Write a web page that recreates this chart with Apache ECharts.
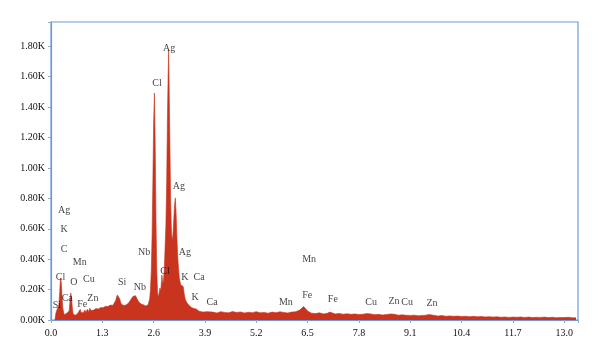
<!DOCTYPE html>
<html>
<head>
<meta charset="utf-8">
<script src="https://cdn.jsdelivr.net/npm/echarts@6/dist/echarts.min.js"></script>
<style>html,body{margin:0;padding:0;background:#fff}#c{width:600px;height:359px}</style>
</head>
<body>
<div id="c"></div>
<script>
// Spectrum: energy (keV) and counts
const energy = [
0.10,0.12,0.14,0.16,0.18,0.20,0.22,0.24,0.26,0.28,0.30,0.32,0.34,0.36,0.38,0.40,0.42,0.44,0.46,0.48,
0.50,0.52,0.54,0.56,0.58,0.60,0.62,0.64,0.66,0.68,0.70,0.72,0.74,0.76,0.78,0.80,0.82,0.84,0.86,0.88,
0.90,0.92,0.94,0.96,0.98,1.00,1.02,1.04,1.06,1.08,1.10,1.12,1.14,1.16,1.18,1.20,1.22,1.24,1.26,1.28,
1.30,1.32,1.34,1.36,1.38,1.40,1.42,1.44,1.46,1.48,1.50,1.52,1.54,1.56,1.58,1.60,1.62,1.64,1.66,1.68,
1.70,1.72,1.74,1.76,1.78,1.80,1.82,1.84,1.86,1.88,1.90,1.92,1.94,1.96,1.98,2.00,2.02,2.04,2.06,2.08,
2.10,2.12,2.14,2.16,2.18,2.20,2.22,2.24,2.26,2.28,2.30,2.32,2.34,2.36,2.38,2.40,2.42,2.44,2.46,2.48,
2.50,2.52,2.54,2.56,2.58,2.60,2.62,2.64,2.66,2.68,2.70,2.72,2.74,2.76,2.78,2.80,2.81,2.83,2.85,2.87,
2.89,2.91,2.93,2.95,2.97,2.98,2.99,3.01,3.03,3.05,3.07,3.09,3.11,3.13,3.15,3.17,3.19,3.21,3.23,3.25,
3.27,3.29,3.31,3.33,3.35,3.37,3.39,3.41,3.44,3.47,3.50,3.53,3.56,3.59,3.62,3.65,3.68,3.71,3.75,3.80,
3.85,3.90,3.95,4.00,4.1,4.2,4.3,4.4,4.5,4.6,4.7,4.8,4.9,5.0,5.1,5.2,5.3,5.4,5.5,5.6,
5.7,5.8,5.9,6.0,6.1,6.2,6.3,6.35,6.4,6.45,6.5,6.6,6.7,6.8,6.9,7.0,7.06,7.1,7.2,7.3,
7.4,7.5,7.6,7.7,7.8,7.9,8.0,8.05,8.1,8.2,8.3,8.4,8.5,8.6,8.64,8.7,8.8,8.9,9.0,9.1,
9.2,9.3,9.4,9.5,9.57,9.65,9.7,9.8,9.9,10.0,10.1,10.2,10.3,10.4,10.5,10.6,10.7,10.8,10.9,11.0,
11.1,11.2,11.3,11.4,11.5,11.6,11.7,11.8,11.9,12.0,12.1,12.2,12.3,12.4,12.5,12.6,12.7,12.8,12.9,13.0,
13.1,13.2,13.3
];
const counts = [
0,40,60,55,70,100,180,276,250,150,80,50,35,30,40,45,35,40,60,120,
178,150,80,40,30,28,32,30,35,45,40,55,70,50,45,60,48,55,65,50,
58,70,60,55,78,85,62,60,70,65,72,68,75,70,78,72,80,76,82,78,
85,80,88,84,90,86,92,88,95,92,98,94,100,96,105,110,120,130,150,165,
171,160,140,120,105,100,98,95,100,96,98,105,100,110,118,125,135,142,150,156,
164,155,160,150,140,132,120,115,110,105,102,98,100,95,98,92,96,94,100,110,
140,200,320,550,900,1300,1493,1150,650,320,180,150,160,210,190,260,296,240,260,330,
480,620,900,1350,1650,1776,1600,1200,800,600,520,560,660,760,803,700,540,420,340,280,
250,230,240,243,220,180,150,130,115,105,95,88,82,88,75,68,72,62,58,55,
52,50,55,48,52,46,55,50,47,56,49,53,46,51,48,55,47,50,45,52,
48,54,50,46,52,55,65,78,88,80,60,45,42,47,40,44,52,45,40,43,
38,41,37,40,36,38,42,46,40,35,37,33,36,40,45,38,32,34,31,30,
32,28,30,32,36,33,28,26,29,25,27,24,26,23,25,22,24,21,23,20,
22,19,21,18,20,17,19,18,20,17,19,16,18,17,19,16,18,15,17,16,
18,15,14
];
// Element annotations (energy, counts, text)
const labelEnergy = [2.99,2.685,3.24,2.36,3.39,2.89,3.39,3.75,3.65,4.08,2.25,1.80,
  0.33,0.33,0.33,0.73,0.24,0.58,0.96,0.15,0.41,0.79,1.06,
  6.54,5.95,6.49,7.14,8.11,8.69,9.02,9.65];
const labelCount = [1789,1559,881,447,447,322,283,283,151,118,217,250,
  723,599,467,381,283,250,270,95,145,105,140,
  401,118,164,138,118,125,118,112];
const labelText = ['Ag','Cl','Ag','Nb','Ag','Cl','K','Ca','K','Ca','Nb','Si',
  'Ag','K','C','Mn','Cl','O','Cu','Si','Ca','Fe','Zn',
  'Mn','Mn','Fe','Fe','Cu','Zn','Cu','Zn'];
// Axis ticks
const xTickStep = 1.3;
const yTickStep = 200;

const blue = '#6b9bd9';
const red = '#c9341f';
const serif = '"Liberation Serif","Times New Roman",serif';

const specData = energy.map((e, i) => [e, counts[i]]);
const labelData = labelText.map((t, i) => ({ value: [labelEnergy[i], labelCount[i]], name: t }));

const chart = echarts.init(document.getElementById('c'));
chart.setOption({
  animation: false,
  backgroundColor: '#fff',
  grid: { left: 51, right: 22, top: 22, bottom: 39, show: true, borderColor: blue, borderWidth: 1.2, backgroundColor: 'transparent' },
  xAxis: {
    type: 'value', min: 0, max: 13.35, interval: xTickStep,
    axisLine: { show: true, lineStyle: { color: blue, width: 1.2 } },
    axisTick: { show: true, length: 3, lineStyle: { color: '#9ab' } },
    splitLine: { show: false },
    axisLabel: {
      margin: 8, color: '#111', fontFamily: serif, fontSize: 10,
      formatter: v => (v > 13.2 ? '' : v.toFixed(1))
    }
  },
  yAxis: {
    type: 'value', min: 0, max: 1960, interval: yTickStep,
    axisLine: { show: true, lineStyle: { color: blue, width: 1.2 } },
    axisTick: { show: true, length: 3, lineStyle: { color: '#9ab' } },
    splitLine: { show: false },
    axisLabel: {
      margin: 6, color: '#111', fontFamily: serif, fontSize: 10,
      formatter: v => (v > 1900 ? '' : (v / 1000).toFixed(2) + 'K')
    }
  },
  series: [
    {
      type: 'line', data: specData, symbol: 'none', smooth: false,
      lineStyle: { color: red, width: 0.6 },
      areaStyle: { color: red, opacity: 1 },
      z: 2
    },
    {
      type: 'scatter', data: labelData, symbolSize: 1, silent: true,
      itemStyle: { color: 'rgba(0,0,0,0)' },
      label: { show: true, position: 'inside', formatter: p => p.name, color: '#111', fontFamily: serif, fontSize: 10 },
      z: 5
    }
  ]
});
</script>
</body>
</html>
